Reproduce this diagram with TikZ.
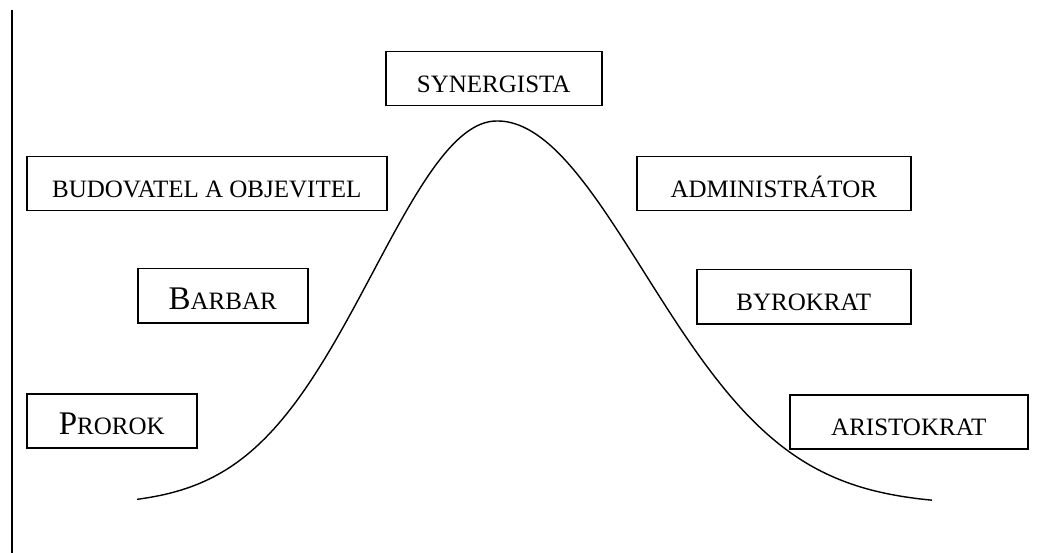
\documentclass[tikz,border=0pt]{standalone}
\usepackage{fontspec}
\setmainfont{Liberation Serif}
\newcommand\bigletter[1]{{\fontsize{33}{36}\selectfont #1}}
\begin{document}
\begin{tikzpicture}[x=1pt,y=-1pt,
  stagebox/.style={draw, line width=1.5pt, anchor=north west, inner sep=0pt,
    text height=41pt, text depth=13pt, align=center,
    font=\fontsize{25}{30}\selectfont},
  curveline/.style={line width=1.4pt}]
\useasboundingbox (0,0) rectangle (1049,553);

% left axis
\draw[line width=1.4pt] (12,10) -- (12,553);

% stage labels
\node[stagebox, minimum width=216pt] (syn) at (385,51) {SYNERGISTA};
\node[stagebox, minimum width=360pt] (bud) at (26,156) {BUDOVATEL A OBJEVITEL};
\node[stagebox, minimum width=274pt] (adm) at (636,156) {ADMINISTRÁTOR};
\node[stagebox, minimum width=170pt] (bar) at (137,268) {\bigletter{B}ARBAR};
\node[stagebox, minimum width=214pt] (byr) at (696,269) {BYROKRAT};
\node[stagebox, minimum width=170pt] (pro) at (26,393) {\bigletter{P}ROROK};
\node[stagebox, minimum width=238pt] (ari) at (789,394) {ARISTOKRAT};

% life-cycle curve: rising flank and falling flank
\draw[curveline] plot[domain=137:497, samples=90]
  (\x, {505-384*exp(-0.5*((\x-497)/124)^2)});
\draw[curveline] plot[domain=497:932, samples=100]
  (\x, {505-384*exp(-0.5*((\x-497)/147)^2)});
\end{tikzpicture}
\end{document}
